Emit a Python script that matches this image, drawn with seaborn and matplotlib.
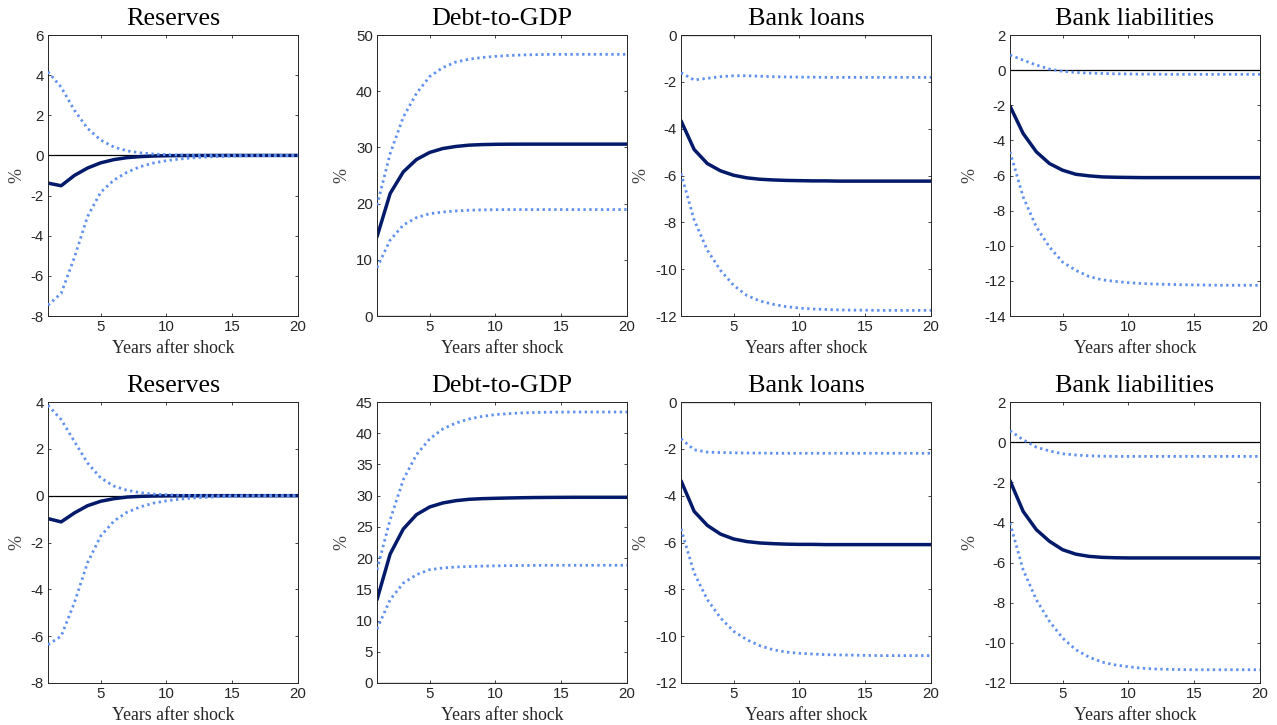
import numpy as np
import pandas as pd
import matplotlib
matplotlib.use("Agg")
import matplotlib.pyplot as plt
import seaborn as sns

# ---------------- data ----------------
years = list(range(1, 21))
titles = ["Reserves", "Debt-to-GDP", "Bank loans", "Bank liabilities"]
x_label = "Years after shock"
y_label = "%"

# Row 1
r1_res_mid = [-1.38, -1.51, -1.00, -0.63, -0.37, -0.21, -0.11, -0.06, -0.03, -0.015, -0.008, -0.004, -0.002, 0, 0, 0, 0, 0, 0, 0]
r1_res_hi = [4.17, 3.40, 2.26, 1.35, 0.77, 0.42, 0.23, 0.13, 0.07, 0.04, 0.02, 0.01, 0.005, 0, 0, 0, 0, 0, 0, 0]
r1_res_lo = [-7.46, -6.87, -5.10, -3.05, -1.84, -1.23, -0.84, -0.56, -0.38, -0.26, -0.18, -0.12, -0.08, -0.05, -0.03, -0.02, -0.01, -0.005, 0, 0]

r1_debt_mid = [14.1, 21.8, 25.65, 27.85, 29.1, 29.8, 30.17, 30.4, 30.5, 30.55, 30.57, 30.58, 30.58, 30.58, 30.58, 30.58, 30.58, 30.58, 30.58, 30.58]
r1_debt_hi = [19.7, 28.9, 35.4, 39.6, 42.6, 44.2, 45.2, 45.7, 46.0, 46.2, 46.35, 46.45, 46.5, 46.55, 46.56, 46.56, 46.56, 46.56, 46.56, 46.56]
r1_debt_lo = [8.6, 13.5, 16.2, 17.5, 18.2, 18.5, 18.7, 18.82, 18.88, 18.92, 18.94, 18.94, 18.94, 18.94, 18.94, 18.94, 18.94, 18.94, 18.94, 18.94]

r1_loan_mid = [-3.66, -4.89, -5.49, -5.80, -5.99, -6.10, -6.16, -6.19, -6.21, -6.22, -6.23, -6.23, -6.24, -6.24, -6.24, -6.24, -6.24, -6.24, -6.24, -6.24]
r1_loan_hi = [-1.61, -1.92, -1.85, -1.78, -1.74, -1.74, -1.76, -1.78, -1.79, -1.80, -1.80, -1.81, -1.81, -1.81, -1.81, -1.81, -1.81, -1.81, -1.81, -1.81]
r1_loan_lo = [-5.91, -7.90, -9.19, -10.05, -10.69, -11.12, -11.36, -11.50, -11.60, -11.66, -11.70, -11.72, -11.74, -11.75, -11.75, -11.76, -11.76, -11.76, -11.76, -11.76]

r1_liab_mid = [-2.05, -3.61, -4.65, -5.32, -5.70, -5.93, -6.02, -6.08, -6.10, -6.11, -6.12, -6.12, -6.12, -6.12, -6.12, -6.12, -6.12, -6.12, -6.12, -6.12]
r1_liab_hi = [0.86, 0.57, 0.29, 0.06, -0.07, -0.13, -0.17, -0.19, -0.21, -0.22, -0.23, -0.23, -0.24, -0.24, -0.24, -0.24, -0.24, -0.24, -0.24, -0.24]
r1_liab_lo = [-4.65, -7.22, -8.93, -10.07, -10.93, -11.40, -11.75, -11.94, -12.03, -12.10, -12.15, -12.18, -12.20, -12.22, -12.23, -12.24, -12.25, -12.25, -12.25, -12.25]

# Row 2
r2_res_mid = [-0.98, -1.12, -0.74, -0.43, -0.24, -0.13, -0.06, -0.03, -0.015, -0.008, -0.004, -0.002, 0, 0, 0, 0, 0, 0, 0, 0]
r2_res_hi = [3.86, 3.25, 2.32, 1.40, 0.76, 0.41, 0.23, 0.13, 0.07, 0.04, 0.02, 0.01, 0.005, 0, 0, 0, 0, 0, 0, 0]
r2_res_lo = [-6.36, -6.00, -4.58, -2.87, -1.73, -1.09, -0.71, -0.48, -0.32, -0.22, -0.15, -0.10, -0.07, -0.04, -0.03, -0.02, -0.01, -0.005, 0, 0]

r2_debt_mid = [13.35, 20.66, 24.67, 26.96, 28.19, 28.83, 29.2, 29.42, 29.52, 29.58, 29.63, 29.67, 29.7, 29.72, 29.73, 29.74, 29.74, 29.74, 29.74, 29.74]
r2_debt_hi = [18.15, 26.16, 32.57, 36.57, 39.08, 40.68, 41.64, 42.28, 42.70, 42.98, 43.14, 43.25, 43.32, 43.36, 43.38, 43.4, 43.4, 43.4, 43.4, 43.4]
r2_debt_lo = [8.65, 13.35, 16.0, 17.35, 18.15, 18.42, 18.58, 18.65, 18.72, 18.76, 18.8, 18.82, 18.84, 18.85, 18.85, 18.85, 18.85, 18.85, 18.85, 18.85]

r2_loan_mid = [-3.36, -4.67, -5.27, -5.64, -5.85, -5.96, -6.02, -6.05, -6.07, -6.08, -6.08, -6.09, -6.09, -6.09, -6.09, -6.09, -6.09, -6.09, -6.09, -6.09]
r2_loan_hi = [-1.57, -2.04, -2.14, -2.16, -2.17, -2.18, -2.18, -2.19, -2.19, -2.19, -2.19, -2.19, -2.19, -2.19, -2.19, -2.19, -2.19, -2.19, -2.19, -2.19]
r2_loan_lo = [-5.42, -7.30, -8.44, -9.22, -9.79, -10.15, -10.41, -10.58, -10.68, -10.73, -10.76, -10.79, -10.80, -10.81, -10.82, -10.83, -10.83, -10.83, -10.83, -10.83]

r2_liab_mid = [-1.92, -3.45, -4.36, -4.94, -5.36, -5.58, -5.69, -5.74, -5.76, -5.77, -5.77, -5.77, -5.77, -5.77, -5.77, -5.77, -5.77, -5.77, -5.77, -5.77]
r2_liab_hi = [0.57, 0.12, -0.25, -0.44, -0.58, -0.64, -0.68, -0.70, -0.71, -0.71, -0.71, -0.71, -0.71, -0.71, -0.71, -0.71, -0.71, -0.71, -0.71, -0.71]
r2_liab_lo = [-4.03, -6.36, -7.85, -8.93, -9.76, -10.34, -10.71, -10.96, -11.10, -11.19, -11.26, -11.30, -11.32, -11.33, -11.34, -11.34, -11.34, -11.34, -11.34, -11.34]

# y-axis settings per panel: (ymin, ymax, step)
r1_ylims = [(-8, 6, 2), (0, 50, 10), (-12, 0, 2), (-14, 2, 2)]
r2_ylims = [(-8, 4, 2), (0, 45, 5), (-12, 0, 2), (-12, 2, 2)]

rows = [
    [(r1_res_mid, r1_res_hi, r1_res_lo), (r1_debt_mid, r1_debt_hi, r1_debt_lo),
     (r1_loan_mid, r1_loan_hi, r1_loan_lo), (r1_liab_mid, r1_liab_hi, r1_liab_lo)],
    [(r2_res_mid, r2_res_hi, r2_res_lo), (r2_debt_mid, r2_debt_hi, r2_debt_lo),
     (r2_loan_mid, r2_loan_hi, r2_loan_lo), (r2_liab_mid, r2_liab_hi, r2_liab_lo)],
]
row_ylims = [r1_ylims, r2_ylims]

# ---------------- style ----------------
sns.set_theme(style="white")
plt.rcParams["font.family"] = ["Liberation Sans", "DejaVu Sans"]

SERIF = ["Liberation Serif", "DejaVu Serif"]
MID_COLOR = "#031a6b"
BAND_COLOR = "#5f90ef"
AX_COLOR = "#262626"

W, H = 1277, 725
fig = plt.figure(figsize=(W / 100, H / 100), dpi=100)
fig.patch.set_facecolor("white")

lefts = [48, 377, 681, 1010]
tops = [35, 402]
pw, ph = 250, 281

for r in range(2):
    for c in range(4):
        l, t = lefts[c], tops[r]
        ax = fig.add_axes([l / W, 1 - (t + ph) / H, pw / W, ph / H])
        mid, hi, lo = rows[r][c]
        ymin, ymax, step = row_ylims[r][c]

        # zero line
        sns.lineplot(x=[years[0], years[-1]], y=[0, 0], ax=ax, color="black", lw=0.9, zorder=1)
        sns.lineplot(x=years, y=hi, ax=ax, color=BAND_COLOR, lw=2.0,
                     linestyle=(0, (0.85, 1.25)), zorder=3)
        sns.lineplot(x=years, y=lo, ax=ax, color=BAND_COLOR, lw=2.0,
                     linestyle=(0, (0.85, 1.25)), zorder=3)
        sns.lineplot(x=years, y=mid, ax=ax, color=MID_COLOR, lw=2.5, zorder=2)

        ax.set_xlim(1, 20)
        ax.set_ylim(ymin, ymax)
        ax.set_xticks([5, 10, 15, 20])
        ax.set_yticks(np.arange(ymin, ymax + step / 2, step))
        ax.set_yticklabels([f"{int(v)}" for v in np.arange(ymin, ymax + step / 2, step)])

        ax.tick_params(direction="in", length=2.4, width=0.6, colors=AX_COLOR,
                       labelsize=10.8, top=True, right=True, bottom=True, left=True, pad=3)
        for s in ax.spines.values():
            s.set_color(AX_COLOR)
            s.set_linewidth(0.7)
            s.set_visible(True)

        ax.set_title(titles[c], family=SERIF, fontsize=18.8, color="black", pad=7.5)
        ax.set_xlabel(x_label, family=SERIF, fontsize=12.8, color=AX_COLOR, labelpad=4.5)
        ax.set_ylabel(y_label, family=SERIF, fontsize=13, color="#444444", labelpad=4)
        ax.grid(False)
        ax.set_facecolor("white")

fig.savefig("out.png", dpi=100, facecolor="white")
